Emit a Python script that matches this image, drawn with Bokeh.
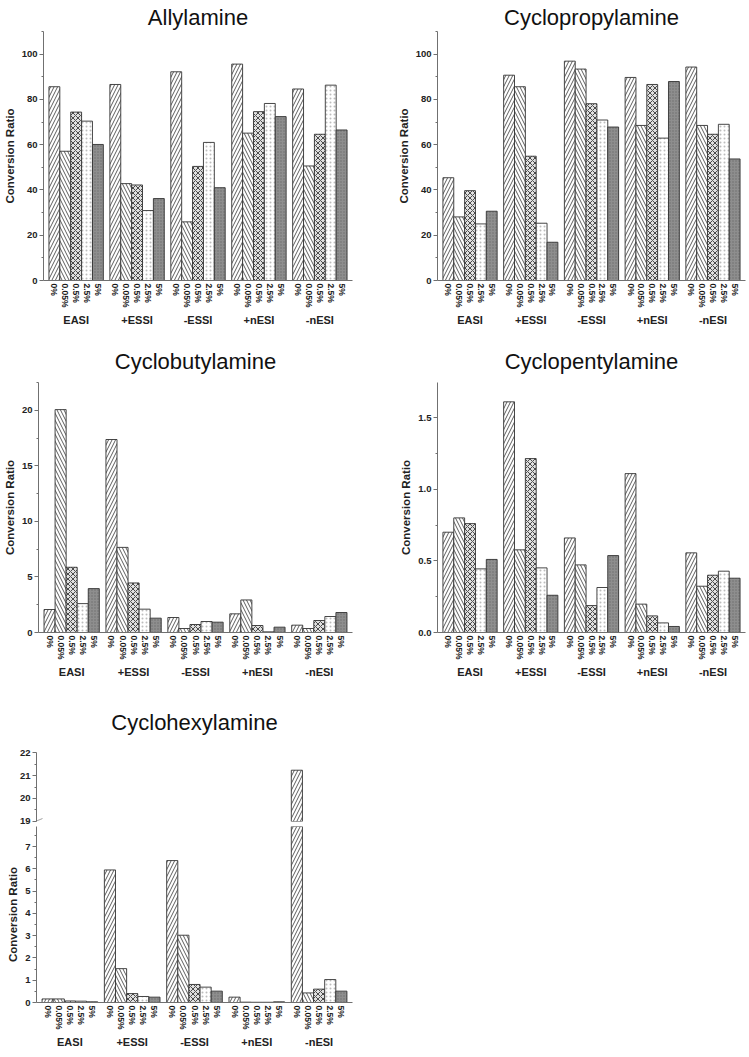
from bokeh.plotting import figure
from bokeh.models import (FactorRange, Range1d, ColumnDataSource, FixedTicker,
                          PolyAnnotation, CDSView, BooleanFilter, PrintfTickFormatter)
from bokeh.layouts import column, row
from bokeh.embed import file_html
from bokeh.resources import INLINE

groups = ["EASI", "+ESSI", "-ESSI", "+nESI", "-nESI"]
concs = ["0%", "0.05%", "0.5%", "2.5%", "5%"]

# values per group (EASI, +ESSI, -ESSI, +nESI, -nESI), each listing 0%, 0.05%, 0.5%, 2.5%, 5%
allylamine = [
    [85.6, 57.1, 74.4, 70.4, 60.1],
    [86.6, 42.8, 42.2, 30.9, 36.2],
    [92.2, 25.9, 50.4, 61.0, 41.0],
    [95.6, 65.1, 74.6, 78.2, 72.4],
    [84.6, 50.6, 64.6, 86.3, 66.5],
]
cyclopropylamine = [
    [45.4, 28.1, 39.7, 25.0, 30.6],
    [90.7, 85.6, 54.9, 25.3, 16.9],
    [96.9, 93.4, 78.1, 70.9, 67.8],
    [89.7, 68.5, 86.6, 62.9, 87.9],
    [94.3, 68.5, 64.6, 69.0, 53.7],
]
cyclobutylamine = [
    [2.07, 20.06, 5.87, 2.60, 3.95],
    [17.37, 7.66, 4.46, 2.10, 1.29],
    [1.35, 0.36, 0.72, 0.99, 0.93],
    [1.68, 2.93, 0.63, 0.06, 0.48],
    [0.66, 0.36, 1.08, 1.44, 1.80],
]
cyclopentylamine = [
    [0.700, 0.800, 0.760, 0.444, 0.510],
    [1.610, 0.577, 1.214, 0.451, 0.260],
    [0.660, 0.472, 0.188, 0.314, 0.537],
    [1.109, 0.198, 0.116, 0.067, 0.042],
    [0.556, 0.323, 0.400, 0.428, 0.379],
]
cyclohexylamine = [
    [0.16, 0.16, 0.07, 0.06, 0.03],
    [5.95, 1.52, 0.40, 0.27, 0.24],
    [6.37, 3.02, 0.81, 0.69, 0.51],
    [0.24, 0.015, 0.01, 0.01, 0.03],
    [21.24, 0.43, 0.60, 1.03, 0.51],
]

y_label = "Conversion Ratio"

ticks_100 = [0, 20, 40, 60, 80, 100]
minor_100 = [10, 30, 50, 70, 90, 110]
ticks_20 = [0, 5, 10, 15, 20]
minor_20 = [2.5, 7.5, 12.5, 17.5, 22.5]
ticks_15 = [0.0, 0.5, 1.0, 1.5]
minor_15 = [0.25, 0.75, 1.25, 1.75]
ticks_hex_low = [0, 1, 2, 3, 4, 5, 6, 7]
minor_hex_low = [0.5, 1.5, 2.5, 3.5, 4.5, 5.5, 6.5, 7.5]
ticks_hex_high = [19, 20, 21, 22]
minor_hex_high = [19.5, 20.5, 21.5]

FONT = "Liberation Sans"

bar_styles = {
    "0%": dict(fill_color="white", hatch_pattern="/", hatch_color="#4a4a4a",
               hatch_scale=7, hatch_weight=0.9),
    "0.05%": dict(fill_color="white", hatch_pattern="\\", hatch_color="#4a4a4a",
                  hatch_scale=7, hatch_weight=0.9),
    "0.5%": dict(fill_color="#e0e0e0", hatch_pattern="x", hatch_color="#3a3a3a",
                 hatch_scale=5, hatch_weight=0.9),
    "2.5%": dict(fill_color="white", hatch_pattern=".", hatch_color="#bdbdbd",
                 hatch_scale=4, hatch_weight=0.8),
    "5%": dict(fill_color="#8e8e8e", hatch_pattern=".", hatch_color="#6c6c6c",
               hatch_scale=3, hatch_weight=1.0),
}


def new_x_range():
    return FactorRange(*[(g, c) for g in groups for c in concs],
                       group_padding=0.6, factor_padding=0.0,
                       range_padding=0.5, range_padding_units="absolute")


def make_fig(title, data, y_start, y_end, ticks, minor, width, height,
             left, right, top, bottom, x_range=None, show_x=True,
             show_label=True, title_standoff=4, fmt=None):
    p = figure(x_range=x_range if x_range is not None else new_x_range(),
               y_range=Range1d(y_start, y_end),
               width=width, height=height, output_backend="svg",
               toolbar_location=None, title=title,
               min_border_left=left, min_border_right=right,
               min_border_top=top, min_border_bottom=bottom)
    for ci, c in enumerate(concs):
        tops = [data[gi][ci] for gi in range(len(groups))]
        src = ColumnDataSource(dict(x=[(g, c) for g in groups], top=tops))
        view = CDSView(filter=BooleanFilter([v > y_start for v in tops]))
        p.vbar(x="x", top="top", width=1.0, source=src, view=view,
               line_color="#333333", line_width=0.9, **bar_styles[c])
    p.xgrid.visible = False
    p.ygrid.visible = False
    p.outline_line_color = None
    if title:
        p.title.text_font = FONT
        p.title.text_font_size = "22px"
        p.title.text_font_style = "normal"
        p.title.text_color = "#111111"
        p.title.align = "center"
        p.title.standoff = title_standoff
    ya = p.yaxis[0]
    ya.ticker = FixedTicker(ticks=ticks, minor_ticks=minor)
    if fmt:
        ya.formatter = PrintfTickFormatter(format=fmt)
    ya.axis_line_color = "#707070"
    ya.major_tick_line_color = "#707070"
    ya.minor_tick_line_color = "#707070"
    ya.major_tick_out = 4
    ya.major_tick_in = 0
    ya.minor_tick_out = 2
    ya.minor_tick_in = 0
    ya.major_label_text_font = FONT
    ya.major_label_text_font_size = "9.5px"
    ya.major_label_text_font_style = "bold"
    ya.major_label_text_color = "#222222"
    ya.major_label_standoff = 2
    if show_label:
        ya.axis_label = y_label
        ya.axis_label_text_font = FONT
        ya.axis_label_text_font_size = "11.5px"
        ya.axis_label_text_font_style = "bold"
        ya.axis_label_text_color = "#222222"
        ya.axis_label_standoff = 3
    xa = p.xaxis[0]
    if show_x:
        xa.axis_line_color = "#707070"
        xa.major_tick_line_color = None
        xa.minor_tick_line_color = None
        xa.major_tick_out = 0
        xa.major_tick_in = 0
        xa.minor_tick_out = 0
        xa.separator_line_color = None
        xa.major_label_orientation = "vertical"
        xa.major_label_text_font = FONT
        xa.major_label_text_font_size = "8.5px"
        xa.major_label_text_font_style = "bold"
        xa.major_label_text_color = "#1a1a1a"
        xa.major_label_standoff = 3
        xa.group_text_font = FONT
        xa.group_text_font_size = "11px"
        xa.group_text_font_style = "bold"
        xa.group_text_color = "#222222"
    else:
        xa.visible = False
    return p


LW, RW = 362, 385
f1 = make_fig("Allylamine", allylamine, 0, 110, ticks_100, minor_100,
              LW, 336, 36, 10, 31, 56, title_standoff=4)
f2 = make_fig("Cyclopropylamine", cyclopropylamine, 0, 110, ticks_100, minor_100,
              RW, 336, 75, 2, 31, 56, title_standoff=4)
f3 = make_fig("Cyclobutylamine", cyclobutylamine, 0, 22.5, ticks_20, minor_20,
              LW, 352, 36, 10, 46, 56, title_standoff=18)
f4 = make_fig("Cyclopentylamine", cyclopentylamine, 0, 1.745, ticks_15, minor_15,
              RW, 352, 75, 2, 46, 56, title_standoff=18, fmt="%.1f")

hex_range = new_x_range()
f5u = make_fig("Cyclohexylamine", cyclohexylamine, 18.98, 22.02, ticks_hex_high,
               minor_hex_high, LW, 138, 36, 10, 64, 5, x_range=hex_range,
               show_x=False, show_label=False, title_standoff=36)
f5l = make_fig(None, cyclohexylamine, 0, 7.9, ticks_hex_low, minor_hex_low,
               LW, 231, 36, 10, 0, 55, x_range=hex_range)

# axis break marks
for dy in (0, 4):
    f5u.add_layout(PolyAnnotation(xs=[-6, 6, -6], ys=[-6 + dy, -1 + dy, -6 + dy],
                                  xs_units="screen", ys_units="screen",
                                  fill_alpha=0, line_color="#555555", line_width=1))

layout = column(row(f1, f2), row(f3, f4), f5u, f5l)

open("out.html", "w").write(file_html(layout, INLINE))
